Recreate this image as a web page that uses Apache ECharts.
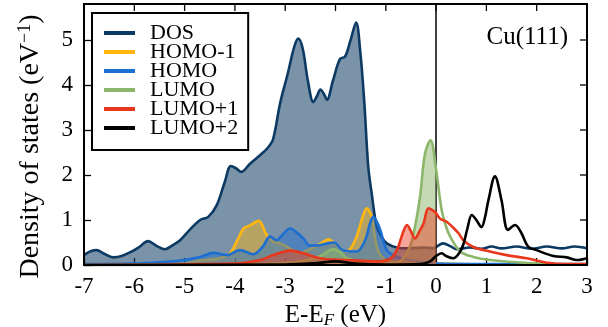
<!DOCTYPE html>
<html>
<head>
<meta charset="utf-8">
<script src="https://cdn.jsdelivr.net/npm/echarts@6/dist/echarts.min.js"></script>
<style>
  html, body { margin: 0; padding: 0; background: #fff; }
  #chart { width: 608px; height: 327px; }
</style>
</head>
<body>
<div id="chart"></div>
<script>
// Projected density of states, Cu(111) substrate: [E - E_F (eV), DOS (1/eV)]
const dos = [[-7,0.22],[-6.88,0.3],[-6.75,0.33],[-6.6,0.25],[-6.42,0.17],[-6.25,0.2],[-6.05,0.3],[-5.9,0.4],[-5.73,0.53],[-5.55,0.42],[-5.39,0.35],[-5.25,0.43],[-5.09,0.55],[-4.9,0.78],[-4.69,1.0],[-4.53,1.07],[-4.36,1.33],[-4.2,1.85],[-4.08,2.2],[-3.98,2.15],[-3.87,2.07],[-3.7,2.25],[-3.5,2.44],[-3.35,2.6],[-3.24,2.8],[-3.1,3.6],[-2.95,4.25],[-2.82,4.85],[-2.74,5.03],[-2.65,4.8],[-2.55,4.1],[-2.44,3.62],[-2.37,3.75],[-2.3,3.9],[-2.23,3.8],[-2.17,3.67],[-2.05,4.1],[-1.91,4.58],[-1.81,4.63],[-1.7,5.0],[-1.59,5.39],[-1.51,4.77],[-1.43,3.66],[-1.35,2.2],[-1.28,1.59],[-1.18,0.85],[-1.08,0.62],[-0.98,0.48],[-0.78,0.39],[-0.52,0.37],[-0.25,0.39],[-0.06,0.37],[0,0.4],[0.14,0.48],[0.28,0.42],[0.41,0.35],[0.67,0.39],[0.9,0.36],[1.1,0.41],[1.3,0.37],[1.6,0.41],[1.9,0.36],[2.2,0.41],[2.5,0.37],[2.75,0.41],[3,0.37]];
const homoMinus1 = [[-7,0],[-5.5,0.01],[-5,0.03],[-4.69,0.1],[-4.4,0.13],[-4.3,0.15],[-4.1,0.26],[-3.95,0.55],[-3.83,0.81],[-3.7,0.88],[-3.53,0.98],[-3.37,0.67],[-3.24,0.52],[-3.1,0.48],[-2.97,0.41],[-2.71,0.26],[-2.55,0.33],[-2.44,0.39],[-2.3,0.47],[-2.14,0.57],[-1.98,0.44],[-1.78,0.3],[-1.68,0.4],[-1.58,0.63],[-1.45,1.1],[-1.38,1.26],[-1.28,1.07],[-1.18,0.41],[-1.05,0.15],[-0.8,0.06],[-0.4,0.04],[0,0.03],[1,0.01],[3,0]];
const homo = [[-7,0.02],[-6,0.03],[-5.5,0.06],[-5.09,0.1],[-4.69,0.18],[-4.43,0.27],[-4.16,0.22],[-3.9,0.33],[-3.63,0.24],[-3.45,0.4],[-3.3,0.63],[-3.17,0.55],[-3.05,0.68],[-2.9,0.81],[-2.77,0.72],[-2.64,0.59],[-2.51,0.43],[-2.31,0.44],[-2.04,0.5],[-1.85,0.33],[-1.58,0.3],[-1.41,0.55],[-1.32,0.9],[-1.25,1.07],[-1.12,0.81],[-0.98,0.33],[-0.78,0.18],[-0.52,0.11],[-0.25,0.06],[0,0.03],[1,0.02],[3,0.02]];
const lumo = [[-7,0],[-4,0.02],[-3,0.05],[-2.6,0.1],[-2.3,0.2],[-2.04,0.35],[-1.9,0.28],[-1.78,0.15],[-1.5,0.07],[-1.0,0.04],[-0.7,0.1],[-0.52,0.41],[-0.42,0.85],[-0.32,1.51],[-0.22,2.48],[-0.11,2.77],[0,2.12],[0.11,1.22],[0.2,0.85],[0.28,0.63],[0.48,0.3],[0.74,0.18],[1.07,0.11],[1.73,0.05],[2.2,0.02],[3,0.01]];
const lumoPlus1 = [[-7,0],[-4,0.03],[-3.5,0.11],[-3.24,0.22],[-2.9,0.32],[-2.64,0.26],[-2.31,0.15],[-1.78,0.11],[-1.1,0.08],[-0.9,0.15],[-0.78,0.33],[-0.65,0.75],[-0.58,0.89],[-0.5,0.75],[-0.42,0.59],[-0.33,0.75],[-0.25,0.92],[-0.15,1.26],[-0.02,1.18],[0,1.15],[0.08,1.03],[0.21,0.96],[0.34,0.83],[0.45,0.7],[0.54,0.55],[0.74,0.4],[1.07,0.3],[1.4,0.22],[1.8,0.15],[2.2,0.05],[2.6,0.02],[3,0.02]];
const lumoPlus2 = [[-7,0],[-3,0.01],[-2.4,0.04],[-2.0,0.08],[-1.6,0.03],[-1,0.01],[-0.3,0.02],[-0.12,0.08],[0,0.2],[0.11,0.26],[0.2,0.2],[0.34,0.15],[0.45,0.25],[0.54,0.45],[0.62,0.8],[0.71,1.11],[0.8,1.0],[0.9,0.84],[0.97,1.05],[1.04,1.44],[1.17,1.97],[1.3,1.44],[1.43,0.78],[1.57,0.89],[1.7,0.7],[1.83,0.41],[2.0,0.33],[2.33,0.2],[2.6,0.17],[2.8,0.11],[3.0,0.15]];

const xTicks = [-7, -6, -5, -4, -3, -2, -1, 0, 1, 2, 3];
const yTicks = [0, 1, 2, 3, 4, 5];
const X_RANGE = [-7, 3];
const Y_RANGE = [0, 5.8];

const FONT = 'Liberation Serif';
const TICK_LEN = 7;

// name, data, line colour, fill colour (occupied part only, E <= E_F)
const curves = [
  { name: 'DOS',    data: dos,        color: '#0d3a62', fill: 'rgba(14,58,98,0.55)' },
  { name: 'HOMO-1', data: homoMinus1, color: '#ffb70f', fill: 'rgba(255,183,15,0.45)' },
  { name: 'HOMO',   data: homo,       color: '#1c6fd0', fill: 'rgba(28,111,208,0.45)' },
  { name: 'LUMO',   data: lumo,       color: '#8cb66a', fill: 'rgba(140,182,106,0.5)' },
  { name: 'LUMO+1', data: lumoPlus1,  color: '#e8371c', fill: 'rgba(232,55,28,0.45)' },
  { name: 'LUMO+2', data: lumoPlus2,  color: '#000000', fill: null }
];

const series = [];
curves.forEach(function (c, i) {
  if (c.fill) {
    series.push({
      name: c.name + ' (occ.)',
      type: 'line',
      data: c.data.filter(function (p) { return p[0] <= 0; }),
      smooth: 0.35,
      symbol: 'none',
      silent: true,
      lineStyle: { width: 0, opacity: 0 },
      areaStyle: { color: c.fill, opacity: 1 },
      z: 2 + i * 2
    });
  }
  series.push({
    name: c.name,
    type: 'line',
    data: c.data,
    smooth: 0.35,
    symbol: 'none',
    lineStyle: { width: 2.6, color: c.color },
    itemStyle: { color: c.color },
    z: 3 + i * 2
  });
});

// Fermi level marker
series[series.length - 1].markLine = {
  silent: true,
  symbol: 'none',
  label: { show: false },
  lineStyle: { color: '#000', width: 1.5, type: 'solid' },
  data: [{ xAxis: 0 }]
};

const frameLine = { stroke: '#000', lineWidth: 2, fill: null };
const tickLine = { stroke: '#000', lineWidth: 1.3 };

// Closed frame around the plot area
series.push({
  type: 'custom',
  silent: true,
  clip: false,
  z: 30,
  data: [[X_RANGE[0], Y_RANGE[0]]],
  renderItem: function (params, api) {
    const a = api.coord([X_RANGE[0], Y_RANGE[1]]);
    const b = api.coord([X_RANGE[1], Y_RANGE[0]]);
    return { type: 'rect', shape: { x: a[0], y: a[1], width: b[0] - a[0], height: b[1] - a[1] }, style: frameLine };
  }
});
// Mirrored inward ticks along the top edge
series.push({
  type: 'custom',
  silent: true,
  clip: false,
  z: 30,
  data: xTicks.map(function (v) { return [v, Y_RANGE[1]]; }),
  renderItem: function (params, api) {
    const p = api.coord([api.value(0), api.value(1)]);
    return { type: 'line', shape: { x1: p[0], y1: p[1], x2: p[0], y2: p[1] + TICK_LEN }, style: tickLine };
  }
});
// Mirrored inward ticks along the right edge
series.push({
  type: 'custom',
  silent: true,
  clip: false,
  z: 30,
  data: yTicks.map(function (v) { return [X_RANGE[1], v]; }),
  renderItem: function (params, api) {
    const p = api.coord([api.value(0), api.value(1)]);
    return { type: 'line', shape: { x1: p[0], y1: p[1], x2: p[0] - TICK_LEN, y2: p[1] }, style: tickLine };
  }
});

const chart = echarts.init(document.getElementById('chart'), null, { renderer: 'canvas' });
chart.setOption({
  animation: false,
  backgroundColor: '#fff',
  grid: { left: 84, right: 21, top: 4, bottom: 62, outerBoundsMode: 'none' },
  legend: {
    data: curves.map(function (c) { return c.name; }),
    orient: 'vertical',
    left: 92,
    top: 13,
    icon: 'rect',
    itemWidth: 31,
    itemHeight: 4,
    itemGap: -3,
    padding: [9, 10, 11, 12],
    backgroundColor: '#fff',
    borderColor: '#000',
    borderWidth: 2,
    borderRadius: 0,
    selectedMode: false,
    textStyle: { fontFamily: FONT, fontSize: 22, color: '#000', lineHeight: 19, padding: [0, 0, 0, 10] }
  },
  graphic: [{
    type: 'text',
    right: 40,
    top: 25,
    z: 10,
    style: { text: 'Cu(111)', font: '25px "' + FONT + '"', fill: '#000' }
  }],
  xAxis: {
    type: 'value',
    min: X_RANGE[0], max: X_RANGE[1], interval: 1,
    axisLine: { show: true, onZero: false, lineStyle: { color: '#000', width: 2 } },
    axisTick: { show: true, inside: true, length: TICK_LEN, customValues: xTicks, lineStyle: { color: '#000', width: 1.3 } },
    splitLine: { show: false },
    axisLabel: { customValues: xTicks, fontFamily: FONT, fontSize: 23, color: '#000', margin: 10 },
    name: '{a|E-E}{s|F}{a| (eV)}',
    nameLocation: 'middle',
    nameGap: 33,
    nameTextStyle: {
      rich: {
        a: { fontFamily: FONT, fontSize: 25, color: '#000' },
        s: { fontFamily: FONT, fontSize: 17, fontStyle: 'italic', color: '#000', padding: [10, 0, 0, 0] }
      }
    }
  },
  yAxis: {
    type: 'value',
    min: Y_RANGE[0], max: Y_RANGE[1], interval: 1,
    axisLine: { show: true, onZero: false, lineStyle: { color: '#000', width: 2 } },
    axisTick: { show: true, inside: true, length: TICK_LEN, customValues: yTicks, lineStyle: { color: '#000', width: 1.3 } },
    splitLine: { show: false },
    axisLabel: { customValues: yTicks, fontFamily: FONT, fontSize: 23, color: '#000', margin: 11 },
    name: '{a|Density of states (eV}{p|−1}{a|)}',
    nameLocation: 'middle',
    nameRotate: 90,
    nameGap: 38,
    nameTextStyle: {
      padding: [0, 24, 0, 0],
      rich: {
        a: { fontFamily: FONT, fontSize: 28, color: '#000' },
        p: { fontFamily: FONT, fontSize: 18, color: '#000', padding: [0, 0, 12, 0] }
      }
    }
  },
  series: series
});
</script>
</body>
</html>
